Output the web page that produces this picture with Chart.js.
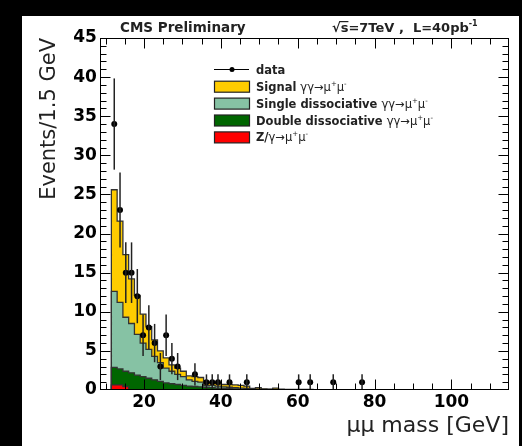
<!DOCTYPE html>
<html lang="en">
<head>
<meta charset="UTF-8">
<title>μμ mass</title>
<script src="https://cdn.jsdelivr.net/npm/chart.js"></script>
<style>
  html, body { margin: 0; padding: 0; background: #000; }
  canvas { display: block; }
</style>
</head>
<body>
<canvas id="massChart" width="522" height="446"></canvas>
<script>
// 1.5 GeV bins starting at 11.5 GeV
const binStart = 11.5;
const binWidth = 1.5;

// observed events per bin
const dataCounts = [
  34, 23, 15, 15, 12, 7, 8, 6, 3, 7, 4, 3,
  0, 0, 2, 0, 1, 1, 1, 0, 1, 0, 0, 1,
  0, 0, 0, 0, 0, 0, 0, 0, 1, 0, 1, 0,
  0, 0, 1, 0, 0, 0, 0, 1, 0, 0, 0, 0,
  0, 0, 0, 0, 0, 0, 0
];

// MC components per bin (stacked)
const signal = [
  13.0, 10.4, 8.0, 5.7, 5.0, 3.7, 2.9, 2.1, 1.5, 1.3, 0.8, 0.8,
  0.7, 0.5, 0.6, 0.6, 0.4, 0.3, 0.35, 0.3, 0.35, 0.35, 0.35, 0.3,
  0.08, 0.2, 0.07, 0.05, 0.19, 0.05, 0.04, 0.04, 0.04, 0.03, 0.04, 0.03,
  0.02, 0.02, 0.02, 0.02, 0.02, 0.015, 0.015, 0.015, 0.015, 0.01, 0.01, 0.01,
  0.01, 0.01, 0.01, 0.01, 0.01, 0.01, 0.01
];
const singleDiss = [
  9.7, 8.5, 6.9, 6.3, 5.2, 4.3, 3.7, 3.0, 2.4, 1.9, 1.6, 1.3,
  1.1, 0.8, 0.65, 0.6, 0.25, 0.3, 0.25, 0.2, 0.17, 0.15, 0.13, 0.1,
  0.04, 0.03, 0.02, 0.02, 0.01, 0.01, 0.01, 0.01, 0.01, 0.01, 0.01, 0.01,
  0.01, 0.01, 0.01, 0.01, 0.01, 0.01, 0.01, 0.01, 0.01, 0.01, 0.01, 0.01,
  0.01, 0.01, 0.01, 0.01, 0.01, 0.01, 0.01
];
const doubleDiss = [
  2.25, 2.05, 1.95, 2.2, 1.9, 1.7, 1.5, 1.3, 1.1, 0.9, 0.8, 0.7,
  0.6, 0.5, 0.45, 0.4, 0.35, 0.3, 0.25, 0.2, 0.18, 0.15, 0.12, 0.1,
  0.08, 0.07, 0.06, 0.05, 0.05, 0.04, 0.04, 0.03, 0.03, 0.03, 0.02, 0.02,
  0.02, 0.02, 0.02, 0.02, 0.015, 0.015, 0.015, 0.015, 0.01, 0.01, 0.01, 0.01,
  0.01, 0.01, 0.01, 0.01, 0.01, 0.01, 0.01
];
const zBkg = [0.65, 0.65, 0.45];

const xTickLabels = [20, 40, 60, 80, 100];
const yTickLabels = [0, 5, 10, 15, 20, 25, 30, 35, 40, 45];

const colors = { signal: '#ffcc00', single: '#86c2a4', double: '#006600', z: '#ff0000' };

// cumulative stack tops, bottom layer first
const nBins = dataCounts.length;
const cumZ = [], cumDouble = [], cumSingle = [], cumTotal = [];
for (let i = 0; i < nBins; i++) {
  const z = zBkg[i] || 0;
  cumZ.push(z);
  cumDouble.push(z + doubleDiss[i]);
  cumSingle.push(z + doubleDiss[i] + singleDiss[i]);
  cumTotal.push(z + doubleDiss[i] + singleDiss[i] + signal[i]);
}

function stepPoints(values) {
  const pts = [{x: binStart, y: 0}];
  values.forEach((v, i) => pts.push({x: binStart + i * binWidth, y: v}));
  const end = binStart + values.length * binWidth;
  pts.push({x: end, y: values[values.length - 1]});
  pts.push({x: end, y: 0});
  return pts;
}

function histSet(label, values, color) {
  return {
    label: label,
    data: stepPoints(values),
    stepped: true,
    fill: 'origin',
    backgroundColor: color,
    borderColor: '#333',
    borderWidth: 1.3,
    pointRadius: 0
  };
}

const dataPoints = [];
dataCounts.forEach((n, i) => {
  if (n > 0) dataPoints.push({x: binStart + (i + 0.5) * binWidth, y: n});
});

const FONT = 'DejaVu Sans';
Chart.defaults.font.family = FONT;

const background = {
  id: 'background',
  beforeDraw(chart) {
    const c = chart.ctx;
    c.save();
    c.fillStyle = '#000';
    c.fillRect(0, 0, chart.width, chart.height);
    c.fillStyle = '#fff';
    c.fillRect(22, 16, 497, 430);
    c.restore();
  }
};

const errorBars = {
  id: 'errorBars',
  afterDatasetsDraw(chart) {
    const {ctx, scales: {x, y}} = chart;
    ctx.save();
    ctx.strokeStyle = '#222';
    ctx.lineWidth = 1.5;
    dataCounts.forEach((n, i) => {
      if (!n) return;
      const xc = x.getPixelForValue(binStart + (i + 0.5) * binWidth);
      const e = Math.sqrt(n);
      ctx.beginPath();
      ctx.moveTo(xc, y.getPixelForValue(n - e));
      ctx.lineTo(xc, y.getPixelForValue(n + e));
      ctx.stroke();
    });
    ctx.restore();
  }
};

// frame with inward ticks on all four sides
const frame = {
  id: 'frame',
  afterDatasetsDraw(chart) {
    const {ctx, chartArea: a, scales: {x, y}} = chart;
    const L = Math.round(a.left) + 0.5, R = Math.round(a.right) - 0.5;
    const T = Math.round(a.top) + 0.5, B = Math.round(a.bottom) - 0.5;
    ctx.save();
    ctx.strokeStyle = '#000';
    ctx.lineWidth = 1;
    ctx.strokeRect(L, T, R - L, B - T);
    ctx.beginPath();
    for (let v = 1; v < 45; v++) {
      const len = v % 5 === 0 ? 10 : 6;
      const py = Math.round(y.getPixelForValue(v)) + 0.5;
      ctx.moveTo(L, py); ctx.lineTo(L + len, py);
      ctx.moveTo(R, py); ctx.lineTo(R - len, py);
    }
    for (let v = 10; v <= 110; v += 5) {
      const len = v % 20 === 0 ? 10 : 6;
      const px = Math.round(x.getPixelForValue(v)) + 0.5;
      ctx.moveTo(px, B); ctx.lineTo(px, B - len);
      ctx.moveTo(px, T); ctx.lineTo(px, T + len);
    }
    ctx.stroke();
    ctx.restore();
  }
};

function richText(c, parts, x, y) {
  parts.forEach(p => {
    c.font = p.f;
    c.fillText(p.t, x, y + (p.dy || 0));
    x += c.measureText(p.t).width;
  });
  return x;
}

const LB = 'bold 11.5px ' + FONT, LN = '11.5px ' + FONT, LS = '7px ' + FONT;
const legendRows = [
  {color: colors.signal, parts: [{t: 'Signal ', f: LB}]},
  {color: colors.single, parts: [{t: 'Single dissociative ', f: LB}]},
  {color: colors.double, parts: [{t: 'Double dissociative ', f: LB}]},
  {color: colors.z, parts: [{t: 'Z/', f: LB}]}
];
const mumu = [{t: 'γγ→μ', f: LN}, {t: '+', f: LS, dy: -5}, {t: 'μ', f: LN}, {t: '-', f: LS, dy: -5}];
const zmumu = [{t: 'γ→μ', f: LN}, {t: '+', f: LS, dy: -5}, {t: 'μ', f: LN}, {t: '-', f: LS, dy: -5}];

const labels = {
  id: 'labels',
  afterDraw(chart) {
    const c = chart.ctx;
    c.save();
    c.fillStyle = '#222';
    c.textBaseline = 'alphabetic';
    c.font = 'bold 13.5px ' + FONT;
    c.fillText('CMS Preliminary', 120, 32);

    // sqrt(s) label
    let x = 332;
    c.font = 'bold 13px ' + FONT;
    c.fillText('√', x, 32);
    x += c.measureText('√').width;
    const sw = c.measureText('s').width;
    c.fillText('s', x, 32);
    c.fillRect(x - 1, 21, sw + 1, 1.2);
    x += sw;
    x = richText(c, [{t: '=7TeV ,  L=40pb', f: 'bold 13px ' + FONT}, {t: '-1', f: 'bold 8px ' + FONT, dy: -6}], x, 32);

    // legend
    c.strokeStyle = '#000';
    c.lineWidth = 1;
    c.beginPath();
    c.moveTo(214, 69.5); c.lineTo(249, 69.5);
    c.stroke();
    c.fillStyle = '#000';
    c.beginPath();
    c.arc(232, 69.5, 2.5, 0, Math.PI * 2);
    c.fill();
    c.fillStyle = '#222';
    c.font = LB;
    c.fillText('data', 256, 73.5);
    legendRows.forEach((row, i) => {
      const cy = 86.7 + i * 16.9;
      c.fillStyle = row.color;
      c.fillRect(214.5, cy - 5.5, 35, 11);
      c.strokeStyle = '#222';
      c.lineWidth = 1.2;
      c.strokeRect(214.5, cy - 5.5, 35, 11);
      c.fillStyle = '#222';
      const xe = richText(c, row.parts, 256, cy + 4);
      richText(c, i === 3 ? zmumu : mumu, xe, cy + 4);
    });
    c.restore();
  }
};

new Chart(document.getElementById('massChart').getContext('2d'), {
  type: 'line',
  data: {
    datasets: [
      {
        label: 'data',
        data: dataPoints,
        showLine: false,
        pointRadius: 3,
        pointBackgroundColor: '#000',
        pointBorderColor: '#000',
        pointBorderWidth: 0
      },
      histSet('Z/γ→μμ', cumZ, colors.z),
      histSet('Double dissociative γγ→μμ', cumDouble, colors.double),
      histSet('Single dissociative γγ→μμ', cumSingle, colors.single),
      histSet('Signal γγ→μμ', cumTotal, colors.signal)
    ]
  },
  options: {
    responsive: false,
    animation: false,
    devicePixelRatio: 1,
    layout: { padding: { left: 22, right: 13, top: 38, bottom: 4 } },
    plugins: { legend: { display: false }, tooltip: { enabled: false } },
    scales: {
      x: {
        type: 'linear',
        min: 8.5,
        max: 115,
        grid: { display: false, drawTicks: false },
        border: { display: false },
        afterBuildTicks(axis) { axis.ticks = xTickLabels.map(v => ({value: v})); },
        ticks: { color: '#000', padding: 4, font: { size: 17, weight: 'bold', lineHeight: 1 } },
        title: {
          display: true, text: 'μμ mass [GeV]', align: 'end', color: '#222',
          font: { size: 22, lineHeight: 1 }, padding: { top: 0, bottom: 5 }
        }
      },
      y: {
        min: 0,
        max: 45,
        grid: { display: false, drawTicks: false },
        border: { display: false },
        afterBuildTicks(axis) { axis.ticks = yTickLabels.map(v => ({value: v})); },
        ticks: { color: '#000', padding: 3, font: { size: 17, weight: 'bold' } },
        title: {
          display: true, text: 'Events/1.5 GeV', align: 'end', color: '#222',
          font: { size: 21 }, padding: { top: 15, bottom: 8 }
        }
      }
    }
  },
  plugins: [background, errorBars, frame, labels]
});
</script>
</body>
</html>
